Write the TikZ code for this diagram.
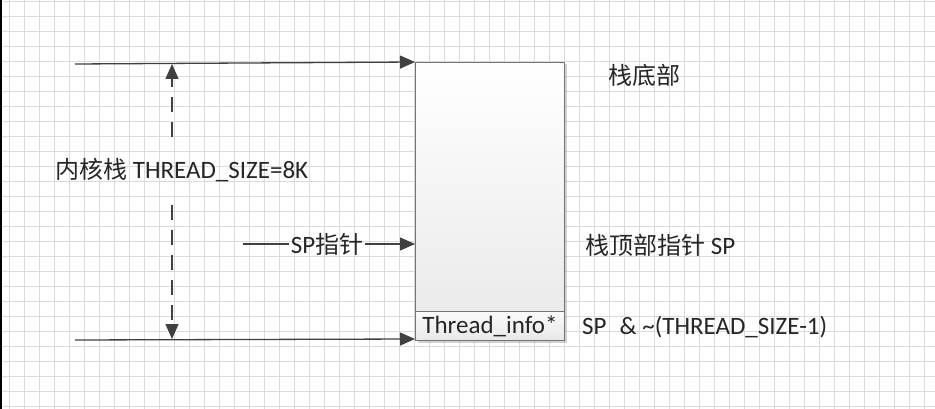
\documentclass[tikz,border=0pt]{standalone}
\usepackage{fontspec}
\setmainfont{Carlito}
\newfontfamily\cjk[Scale=0.96]{Noto Sans CJK SC}
\usetikzlibrary{arrows.meta,shadows}

\begin{document}
\begin{tikzpicture}[x=1pt,y=-1pt,
    gridln/.style={draw=black!14,line width=0.8pt},
    stk/.style={draw=black!55,line width=1pt,top color=white,bottom color=black!9,
      minimum width=149pt,minimum height=278pt,inner sep=0pt,anchor=north west},
    tinf/.style={draw=black!55,line width=1pt,top color=black!2,bottom color=black!9,
      minimum width=149pt,minimum height=29pt,inner sep=0pt,text=black!85,
      font=\fontsize{25}{30}\selectfont},
    ln/.style={draw=black!75,line width=1.3pt},
    arw/.style={ln,-{Triangle[length=15pt,width=13pt]}},
    darw/.style={arw,dash pattern=on 15pt off 10pt},
    lbl/.style={text=black!85,font=\fontsize{25}{30}\selectfont,inner sep=0pt,anchor=west}]
  \fill[white] (0,0) rectangle (935,409);
  \useasboundingbox (0,0) rectangle (935,409);
  \draw[gridln,step=15pt,shift={(9.3,1)}] (-9.3,-1) grid (925.7,408);
  \draw[black,line width=1.5pt] (0.75,0) -- (0.75,409);
  \node[stk,drop shadow={shadow xshift=2pt,shadow yshift=-2pt,opacity=0.35}] (stack) at (415,62) {};
  \node[tinf,anchor=south] (tinfo) at (stack.south) {Thread\_info*};
  \node[lbl] (kstack) at (55,170) {{\cjk 内核栈} THREAD\_SIZE=8K};
  \node[lbl] (bottomlbl) at (608,75) {\cjk 栈底部};
  \node[lbl] (toplbl) at (585,245) {{\cjk 栈顶部指针} SP};
  \node[lbl] (masklbl) at (582,327) {SP\hspace{13pt}\& \textasciitilde(THREAD\_SIZE-1)};
  \node[lbl,anchor=center,inner xsep=2pt] (splbl) at (327,244) {SP{\cjk 指针}};
  \coordinate (topin) at (75,64);
  \coordinate (botin) at (75,340);
  \coordinate (spin) at (243,244);
  \coordinate (dtop) at (172,64);
  \coordinate (dbot) at (172,339);
  \coordinate (gapa) at (172,137);
  \coordinate (gapb) at (172,205);
  \draw[arw] (topin) -- (stack.north west);
  \draw[arw] (botin) -- ([yshift=2pt]stack.south west);
  \draw[darw] (gapa) -- (dtop);
  \draw[darw] (gapb) -- (dbot);
  \draw[ln] (spin) -- (splbl.west);
  \draw[arw] (splbl.east) -- (stack.west |- splbl);
\end{tikzpicture}
\end{document}
